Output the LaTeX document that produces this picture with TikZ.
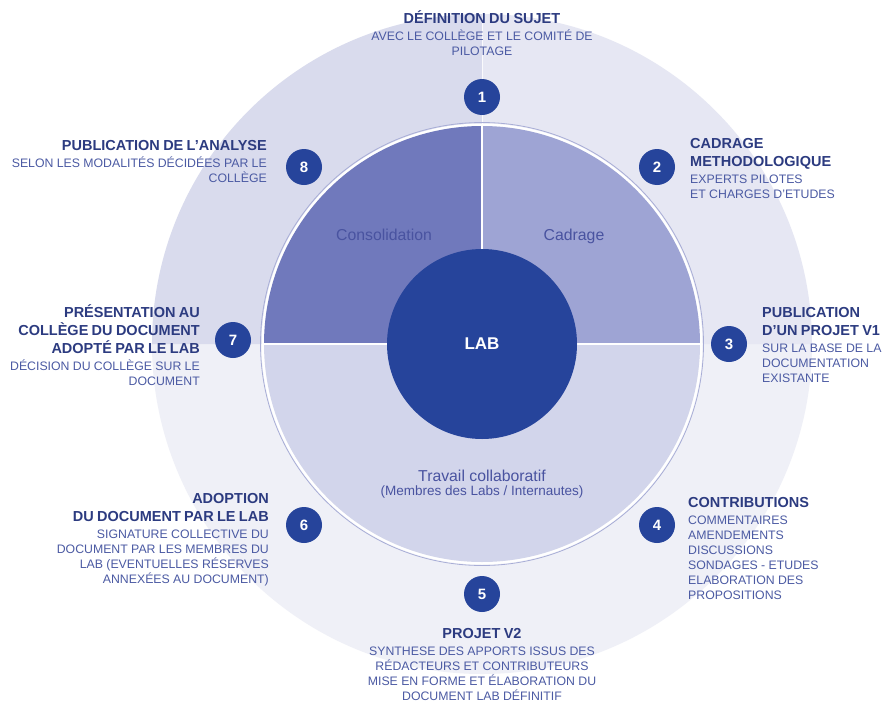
\documentclass[tikz,border=0pt]{standalone}
\usepackage{fontspec}
\setmainfont{Liberation Sans}
\definecolor{ringUL}{HTML}{D9DBED}
\definecolor{ringUR}{HTML}{E6E7F3}
\definecolor{ringLow}{HTML}{EFF0F7}
\definecolor{quadUL}{HTML}{7079BC}
\definecolor{quadUR}{HTML}{9EA4D4}
\definecolor{halfLow}{HTML}{D2D5EB}
\definecolor{navy}{HTML}{26449B}
\definecolor{titlecol}{HTML}{2C3B80}
\definecolor{subcol}{HTML}{4B5AA3}
\definecolor{quadtext}{HTML}{4953A0}
\definecolor{pieline}{HTML}{A8ADD6}
\newcommand\ttlf{\color{titlecol}\bfseries\fontsize{14.5}{18}\selectfont}
\newcommand\subf{\color{subcol}\mdseries\fontsize{12.3}{15}\selectfont}
\newcommand\gapts{\par\vspace{2pt}}
\begin{document}
\begin{tikzpicture}[x=1pt,y=-1pt,
  numdot/.style={circle, fill=navy, minimum size=36pt, inner sep=0pt, text=white,
    font=\bfseries\fontsize{15}{15}\selectfont},
  lblR/.style={text width=300pt, align=right, inner sep=0pt, anchor=base east},
  lblL/.style={text width=300pt, align=left, inner sep=0pt, anchor=base west},
  lblC/.style={text width=340pt, align=center, inner sep=0pt, anchor=base},
  quadlbl/.style={text=quadtext, inner sep=0pt, anchor=base, font=\fontsize{15.8}{18}\selectfont}]
\useasboundingbox (0,0) rectangle (883,704);
\fill[white] (0,0) rectangle (883,704);
\coordinate (c) at (482,344);
% outer ring
\fill[ringLow] (c) ++(330,0) arc[start angle=0,end angle=180,radius=330] -- cycle;
\fill[ringUL] (c) -- ++(-330,0) arc[start angle=180,end angle=270,radius=330] -- cycle;
\fill[ringUR] (c) -- ++(0,-330) arc[start angle=270,end angle=360,radius=330] -- cycle;
\draw[white, line width=1pt, opacity=0.8] (c) -- ++(0,-330);
% pie
\draw[pieline, line width=0.8pt] (c) circle[radius=221.5];
\fill[white] (c) circle[radius=220.5];
\fill[halfLow] (c) ++(218,0) arc[start angle=0,end angle=180,radius=218] -- cycle;
\fill[quadUL] (c) -- ++(-218,0) arc[start angle=180,end angle=270,radius=218] -- cycle;
\fill[quadUR] (c) -- ++(0,-218) arc[start angle=270,end angle=360,radius=218] -- cycle;
\draw[white, line width=2pt] (c) ++(-219,0) -- ++(438,0);
\draw[white, line width=2pt] (c) -- ++(0,-219);
% quadrant labels
\node[quadlbl] (qcons) at (384,240.5) {Consolidation};
\node[quadlbl] (qcad) at (574,240.5) {Cadrage};
\node[quadlbl] (qtrav) at (482,481) {Travail collaboratif};
\node[quadlbl, font=\fontsize{13.5}{16}\selectfont] (qmem) at (482,495.5) {(Membres des Labs / Internautes)};
% center
\node[circle, fill=navy, minimum size=190pt, inner sep=0pt, text=white,
  font=\bfseries\fontsize{17}{17}\selectfont] (lab) at (c) {LAB};
% number dots
\node[numdot] (n1) at (482,97) {1};
\node[numdot] (n2) at (657,167) {2};
\node[numdot] (n3) at (729,344) {3};
\node[numdot] (n4) at (657,525) {4};
\node[numdot] (n5) at (482,594) {5};
\node[numdot] (n6) at (304,525) {6};
\node[numdot] (n7) at (233,340) {7};
\node[numdot] (n8) at (304,167) {8};
% labels
\node[lblC] (t1) at (482,23.3) {\ttlf DÉFINITION DU SUJET\gapts\subf AVEC LE COLLÈGE ET LE COMITÉ DE\par PILOTAGE\par};
\node[lblR] (t8) at (267,150.7) {\ttlf PUBLICATION DE L’ANALYSE\gapts\subf SELON LES MODALITÉS DÉCIDÉES PAR LE\par COLLÈGE\par};
\node[lblL] (t2) at (690,148.3) {\ttlf CADRAGE\par METHODOLOGIQUE\gapts\subf EXPERTS PILOTES\par ET CHARGES D’ETUDES\par};
\node[lblR] (t7) at (200,317.3) {\ttlf PRÉSENTATION AU\par COLLÈGE DU DOCUMENT\par ADOPTÉ PAR LE LAB\gapts\subf DÉCISION DU COLLÈGE SUR LE\par DOCUMENT\par};
\node[lblL] (t3) at (762,317.3) {\ttlf PUBLICATION\par D’UN PROJET V1\gapts\subf SUR LA BASE DE LA\par DOCUMENTATION\par EXISTANTE\par};
\node[lblR] (t6) at (269,503.3) {\ttlf ADOPTION\par DU DOCUMENT PAR LE LAB\gapts\subf SIGNATURE COLLECTIVE DU\par DOCUMENT PAR LES MEMBRES DU\par LAB (EVENTUELLES RÉSERVES\par ANNEXÉES AU DOCUMENT)\par};
\node[lblL] (t4) at (688,507.3) {\ttlf CONTRIBUTIONS\gapts\subf COMMENTAIRES\par AMENDEMENTS\par DISCUSSIONS\par SONDAGES - ETUDES\par ELABORATION DES\par PROPOSITIONS\par};
\node[lblC] (t5) at (482,638.3) {\ttlf PROJET V2\gapts\subf SYNTHESE DES APPORTS ISSUS DES\par RÉDACTEURS ET CONTRIBUTEURS\par MISE EN FORME ET ÉLABORATION DU\par DOCUMENT LAB DÉFINITIF\par};
\end{tikzpicture}
\end{document}
